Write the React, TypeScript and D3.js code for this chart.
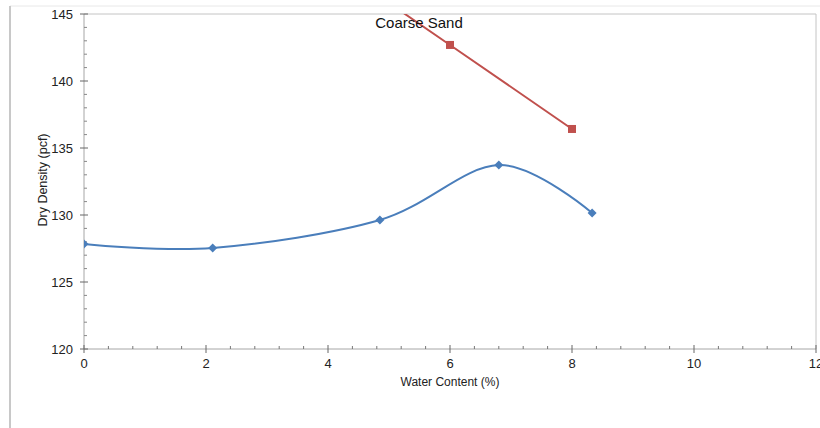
import React from 'react';
import * as d3 from 'd3';

// chart data
const blueX = [0, 2.11, 4.85, 6.8, 8.33];
const blueY = [127.84, 127.54, 129.63, 133.73, 130.15];
const redX = [4, 6, 8];
const redY = [148.95, 142.69, 136.42];
const xTicks = [0, 2, 4, 6, 8, 10, 12];
const yTicks = [120, 125, 130, 135, 140, 145];

const width = 820;
const height = 428;
const left = 84, right = 816, top = 14, bottom = 349;

const font = 'Liberation Sans, Arial, sans-serif';

export default function App() {
  const x = d3.scaleLinear().domain([0, 12]).range([left, right]);
  const y = d3.scaleLinear().domain([120, 145]).range([bottom, top]);

  const blue = blueX.map((v, i) => [v, blueY[i]] as [number, number]);
  const red = redX.map((v, i) => [v, redY[i]] as [number, number]);

  const smooth = d3.line<[number, number]>()
    .x(d => x(d[0])).y(d => y(d[1]))
    .curve(d3.curveCatmullRom.alpha(0));
  const straight = d3.line<[number, number]>()
    .x(d => x(d[0])).y(d => y(d[1]));

  // minor ticks
  const xMinor = d3.range(0, 12.001, 0.4).filter(v => Math.abs(v / 2 - Math.round(v / 2)) > 0.01);
  const yMinor = d3.range(120, 145.001, 1).filter(v => v % 5 !== 0);

  // square diamond marker
  const diamond = 'M0,-4.5L4.5,0L0,4.5L-4.5,0Z';

  return (
    <svg width={width} height={height} style={{ position: 'absolute', left: 0, top: 0, background: '#fff' }}>
      <defs>
        <clipPath id="plot">
          <rect x={left} y={top} width={right - left} height={bottom - top} />
        </clipPath>
      </defs>

      {/* outer frame */}
      <line x1={10} x2={width} y1={6} y2={6} stroke="#e8e8e8" strokeWidth={1} />
      <line x1={10} x2={10} y1={6} y2={height} stroke="#c8c8c8" strokeWidth={2} />

      {/* plot border */}
      <line x1={left} x2={right} y1={top} y2={top} stroke="#c4c4c4" strokeWidth={1} />
      <line x1={right} x2={right} y1={top} y2={bottom} stroke="#c4c4c4" strokeWidth={1} />

      {/* axes */}
      <line x1={left} x2={right} y1={bottom} y2={bottom} stroke="#a6a6a6" strokeWidth={1} />
      <line x1={left} x2={left} y1={top} y2={bottom} stroke="#a6a6a6" strokeWidth={1} />

      {xMinor.map(v => (
        <line key={'xm' + v} x1={x(v)} x2={x(v)} y1={bottom - 3} y2={bottom} stroke="#777" strokeWidth={1} />
      ))}
      {xTicks.map(v => (
        <g key={'xt' + v}>
          <line x1={x(v)} x2={x(v)} y1={bottom - 4} y2={bottom + 4} stroke="#666" strokeWidth={1} />
          <text x={x(v)} y={bottom + 19} textAnchor="middle" fontFamily={font} fontSize={13} fill="#222">{v}</text>
        </g>
      ))}
      {yMinor.map(v => (
        <line key={'ym' + v} x1={left} x2={left + 3} y1={y(v)} y2={y(v)} stroke="#888" strokeWidth={1} />
      ))}
      {yTicks.map(v => (
        <g key={'yt' + v}>
          <line x1={left - 4} x2={left + 4} y1={y(v)} y2={y(v)} stroke="#666" strokeWidth={1} />
          <text x={left - 11} y={y(v) + 5} textAnchor="end" fontFamily={font} fontSize={13} fill="#222">{v}</text>
        </g>
      ))}

      <text x={450} y={386} textAnchor="middle" fontFamily={font} fontSize={12} fill="#222">Water Content (%)</text>
      <text transform={`translate(47, ${180}) rotate(-90)`} textAnchor="middle" fontFamily={font} fontSize={12.5} fill="#222">Dry Density (pcf)</text>

      <g clipPath="url(#plot)">
        <path d={straight(red) || ''} fill="none" stroke="#C0504D" strokeWidth={2} />
        {red.map((d, i) => (
          <rect key={'r' + i} x={x(d[0]) - 4} y={y(d[1]) - 4} width={8} height={8} fill="#C0504D" />
        ))}
        <path d={smooth(blue) || ''} fill="none" stroke="#4A7EBB" strokeWidth={2} />
        {blue.map((d, i) => (
          <path key={'b' + i} d={diamond} transform={`translate(${x(d[0])},${y(d[1])})`} fill="#4A7EBB" />
        ))}
      </g>

      <text x={419} y={28} textAnchor="middle" fontFamily={font} fontSize={15} fill="#111">Coarse Sand</text>
    </svg>
  );
}
